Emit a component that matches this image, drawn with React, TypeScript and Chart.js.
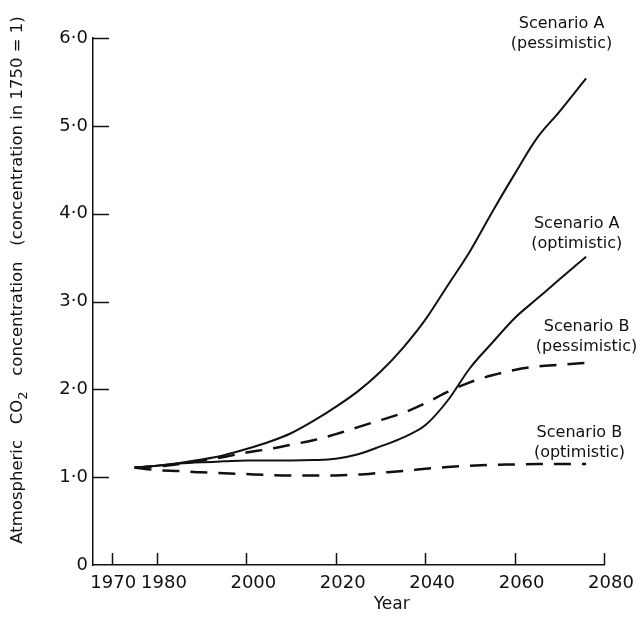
import React, { useEffect, useRef } from 'react';
import { Chart, registerables } from 'chart.js';

Chart.register(...registerables);

// ---- data ----
const YEARS = [1975, 1980, 1985, 1990, 1995, 2000, 2005, 2010, 2015, 2020, 2025, 2030, 2035, 2040, 2045, 2050, 2055, 2060, 2065, 2070, 2076];

const SCENARIO_A_PESSIMISTIC = [1.11, 1.13, 1.16, 1.2, 1.25, 1.32, 1.4, 1.5, 1.64, 1.8, 1.98, 2.2, 2.47, 2.79, 3.18, 3.57, 4.02, 4.45, 4.86, 5.16, 5.54];
const SCENARIO_A_OPTIMISTIC = [1.11, 1.13, 1.155, 1.17, 1.18, 1.19, 1.19, 1.19, 1.195, 1.21, 1.26, 1.35, 1.45, 1.59, 1.87, 2.24, 2.53, 2.81, 3.03, 3.25, 3.51];
const SCENARIO_B_PESSIMISTIC = [1.11, 1.12, 1.15, 1.19, 1.23, 1.28, 1.32, 1.37, 1.42, 1.49, 1.57, 1.65, 1.73, 1.84, 1.97, 2.08, 2.16, 2.22, 2.26, 2.28, 2.3];
const SCENARIO_B_OPTIMISTIC = [1.11, 1.08, 1.07, 1.055, 1.045, 1.035, 1.025, 1.02, 1.02, 1.02, 1.03, 1.05, 1.07, 1.095, 1.115, 1.13, 1.14, 1.145, 1.15, 1.15, 1.15];

const X_TICKS = [1970, 1980, 2000, 2020, 2040, 2060, 2080];
const X_TICK_LABELS = ['1970', '1980', '2000', '2020', '2040', '2060', '2080'];
const Y_TICKS = [0, 1, 2, 3, 4, 5, 6];
const Y_TICK_LABELS = ['0', '1·0', '2·0', '3·0', '4·0', '5·0', '6·0'];

const X_TITLE = 'Year';
const Y_TITLE_PARTS = ['Atmospheric   CO', '2', '   concentration   (concentration in 1750 = 1)'];

const SERIES_NAMES = [
  'Scenario A (pessimistic)',
  'Scenario A (optimistic)',
  'Scenario B (pessimistic)',
  'Scenario B (optimistic)',
];

// annotation anchors (data coordinates of first line's centre)
const ANNOTATIONS = [
  { lines: ['Scenario A', '(pessimistic)'], x: 2070.5, y: 6.16 },
  { lines: ['Scenario A', '(optimistic)'], x: 2073.9, y: 3.88 },
  { lines: ['Scenario B', '(pessimistic)'], x: 2076.1, y: 2.71 },
  { lines: ['Scenario B', '(optimistic)'], x: 2074.5, y: 1.5 },
];

const INK = '#111111';
const FONT = '"DejaVu Sans", "Liberation Sans", sans-serif';

const decorPlugin = {
  id: 'decor',
  afterDraw(chart: any) {
    const { ctx, chartArea: a } = chart;
    const xs = chart.scales.x;
    const ys = chart.scales.y;
    ctx.save();
    ctx.strokeStyle = INK;
    ctx.lineWidth = 1.5;
    // inward tick marks
    Y_TICKS.forEach((v) => {
      if (v === 0) return;
      const py = Math.round(ys.getPixelForValue(v)) + 0.5;
      ctx.beginPath();
      ctx.moveTo(a.left, py);
      ctx.lineTo(a.left + 16, py);
      ctx.stroke();
    });
    X_TICKS.forEach((v) => {
      const px = Math.round(xs.getPixelForValue(v)) + 0.5;
      ctx.beginPath();
      ctx.moveTo(px, a.bottom);
      ctx.lineTo(px, a.bottom - 12);
      ctx.stroke();
    });

    ctx.fillStyle = INK;
    ctx.textAlign = 'center';
    ctx.textBaseline = 'middle';

    // x tick labels (set slightly right of their ticks, as in the original)
    ctx.font = `18px ${FONT}`;
    X_TICKS.forEach((v, i) => {
      const shift = i === 0 ? 1 : 7;
      ctx.fillText(X_TICK_LABELS[i], xs.getPixelForValue(v) + shift, a.bottom + 18);
    });

    ctx.font = `16px ${FONT}`;
    ANNOTATIONS.forEach((an) => {
      const cx = xs.getPixelForValue(an.x);
      const cy = ys.getPixelForValue(an.y);
      an.lines.forEach((t, i) => ctx.fillText(t, cx, cy + i * 20));
    });

    // x title
    ctx.font = `17px ${FONT}`;
    ctx.fillText(X_TITLE, xs.getPixelForValue(2032.5), a.bottom + 40);

    // y title (rotated)
    const mainFont = `16.5px ${FONT}`;
    const subFont = `13px ${FONT}`;
    ctx.save();
    ctx.translate(18, 280);
    ctx.rotate(-Math.PI / 2);
    ctx.textAlign = 'left';
    ctx.textBaseline = 'middle';
    const widths = Y_TITLE_PARTS.map((t, i) => {
      ctx.font = i === 1 ? subFont : mainFont;
      return ctx.measureText(t).width;
    });
    const total = widths.reduce((s, w) => s + w, 0);
    let cur = -total / 2;
    Y_TITLE_PARTS.forEach((t, i) => {
      ctx.font = i === 1 ? subFont : mainFont;
      ctx.fillText(t, cur, i === 1 ? 6 : 0);
      cur += widths[i];
    });
    ctx.restore();

    ctx.restore();
  },
};

export default function App() {
  const canvasRef = useRef<HTMLCanvasElement | null>(null);

  useEffect(() => {
    if (!canvasRef.current) return;
    const series = [SCENARIO_A_PESSIMISTIC, SCENARIO_A_OPTIMISTIC, SCENARIO_B_PESSIMISTIC, SCENARIO_B_OPTIMISTIC];
    const datasets = series.map((vals, i) => ({
      label: SERIES_NAMES[i],
      data: YEARS.map((yr, j) => ({ x: yr, y: vals[j] })),
      borderColor: INK,
      borderWidth: i < 2 ? 2 : 2.5,
      borderDash: i < 2 ? [] : [17, 11],
      pointRadius: 0,
      fill: false,
      cubicInterpolationMode: 'monotone' as const,
    }));

    const chart = new Chart(canvasRef.current, {
      type: 'line',
      data: { datasets },
      options: {
        animation: false,
        responsive: true,
        maintainAspectRatio: false,
        layout: { padding: { top: 38, right: 36, left: 0, bottom: 0 } },
        plugins: {
          legend: { display: false },
          tooltip: { enabled: false },
          title: { display: false },
        },
        scales: {
          x: {
            type: 'linear',
            min: 1965.7,
            max: 2080,
            afterBuildTicks: (s: any) => {
              s.ticks = X_TICKS.map((v) => ({ value: v }));
            },
            afterFit: (s: any) => {
              s.height = 60;
            },
            grid: { display: false, drawTicks: false },
            border: { display: true, color: INK, width: 1.5 },
            ticks: { display: false },
          },
          y: {
            type: 'linear',
            min: 0,
            max: 6,
            afterBuildTicks: (s: any) => {
              s.ticks = Y_TICKS.map((v) => ({ value: v }));
            },
            afterFit: (s: any) => {
              s.width = 93;
            },
            grid: { display: false, drawTicks: false },
            border: { display: true, color: INK, width: 1.5 },
            ticks: {
              color: INK,
              font: { family: FONT, size: 18 },
              padding: 5,
              autoSkip: false,
              callback: (v: any) => {
                const idx = Y_TICKS.indexOf(Number(v));
                return idx >= 0 ? Y_TICK_LABELS[idx] : '';
              },
            },
          },
        },
      },
      plugins: [decorPlugin],
    });
    return () => chart.destroy();
  }, []);

  return (
    <div style={{ position: 'absolute', left: 0, top: 0, width: 640, height: 625, background: '#fff' }}>
      <canvas ref={canvasRef} />
    </div>
  );
}
